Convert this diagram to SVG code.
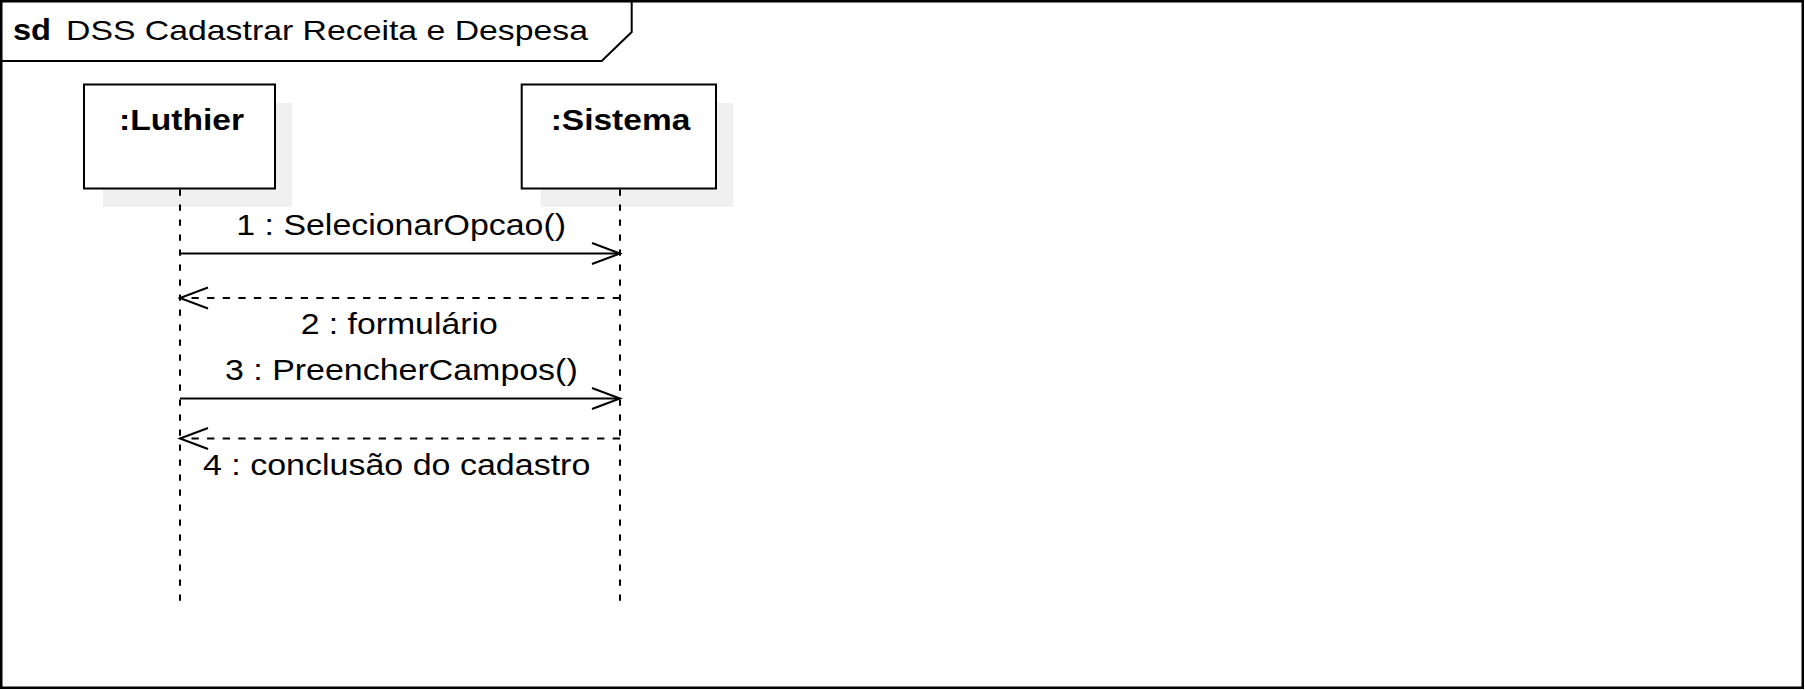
<svg xmlns="http://www.w3.org/2000/svg" width="1805" height="690" viewBox="0 0 1805 690">
  <style>
    .frame { fill: #ffffff; stroke: #000000; stroke-width: 2.5; }
    .hdr { fill: none; stroke: #000000; stroke-width: 2; }
    .box { fill: #ffffff; stroke: #000000; stroke-width: 2; }
    .shadow { fill: #f0f0f0; stroke: none; }
    .life { stroke: #000000; stroke-width: 2; stroke-dasharray: 6.3 8.7; fill: none; }
    .msg { stroke: #000000; stroke-width: 2; fill: none; marker-end: url(#open); }
    .ret { stroke: #000000; stroke-width: 2; fill: none; stroke-dasharray: 7.3 8.3; marker-end: url(#open); }
    .t { font-family: "Liberation Sans", Arial, sans-serif; font-size: 29px; fill: #000000; }
    .th { font-family: "Liberation Sans", Arial, sans-serif; font-size: 28px; fill: #000000; }
    .b { font-family: "Liberation Sans", Arial, sans-serif; font-size: 29px; font-weight: bold; fill: #000000; }
  </style>
  <defs>
    <marker id="open" markerUnits="userSpaceOnUse" markerWidth="34" markerHeight="26" refX="29" refY="12" orient="auto">
      <path d="M1,1.5 L29,12 L1,22.5" fill="none" stroke="#000000" stroke-width="2"/>
    </marker>
  </defs>

  <g id="frame">
    <rect class="frame" x="1.25" y="1.25" width="1801.5" height="686.5"/>
    <path class="hdr" d="M1,61 H601.7 L631.7,32 V1"/>
    <text class="b" x="13" y="40" font-size="28" textLength="38" lengthAdjust="spacingAndGlyphs">sd</text>
    <text class="th" x="66" y="40" textLength="522" lengthAdjust="spacingAndGlyphs">DSS Cadastrar Receita e Despesa</text>
  </g>

  <g id="luthier">
    <rect class="shadow" x="103" y="103" width="189" height="104"/>
    <rect class="box" x="84" y="84.5" width="191" height="104"/>
    <line class="life" x1="180" y1="189.5" x2="180" y2="601"/>
    <text class="b" x="119" y="129.5" textLength="125" lengthAdjust="spacingAndGlyphs">:Luthier</text>
  </g>

  <g id="sistema">
    <rect class="shadow" x="540.7" y="103" width="192.6" height="104"/>
    <rect class="box" x="521.7" y="84.5" width="194.3" height="104"/>
    <line class="life" x1="620" y1="189.5" x2="620" y2="601"/>
    <text class="b" x="550.7" y="129.5" textLength="139.6" lengthAdjust="spacingAndGlyphs">:Sistema</text>
  </g>

  <g id="connectors">
    <line class="msg" x1="180" y1="253.5" x2="620" y2="253.5"/>
    <line class="ret" x1="620" y1="298" x2="180" y2="298"/>
    <line class="msg" x1="180" y1="398.5" x2="620" y2="398.5"/>
    <line class="ret" x1="620" y1="438.5" x2="180" y2="438.5"/>
    <text class="t" x="236.3" y="235" textLength="329.7" lengthAdjust="spacingAndGlyphs">1 : SelecionarOpcao()</text>
    <text class="t" x="300.7" y="334" textLength="197" lengthAdjust="spacingAndGlyphs">2 : formulário</text>
    <text class="t" x="225" y="380" textLength="352.7" lengthAdjust="spacingAndGlyphs">3 : PreencherCampos()</text>
    <text class="t" x="203" y="475" textLength="387.3" lengthAdjust="spacingAndGlyphs">4 : conclusão do cadastro</text>
  </g>
</svg>
